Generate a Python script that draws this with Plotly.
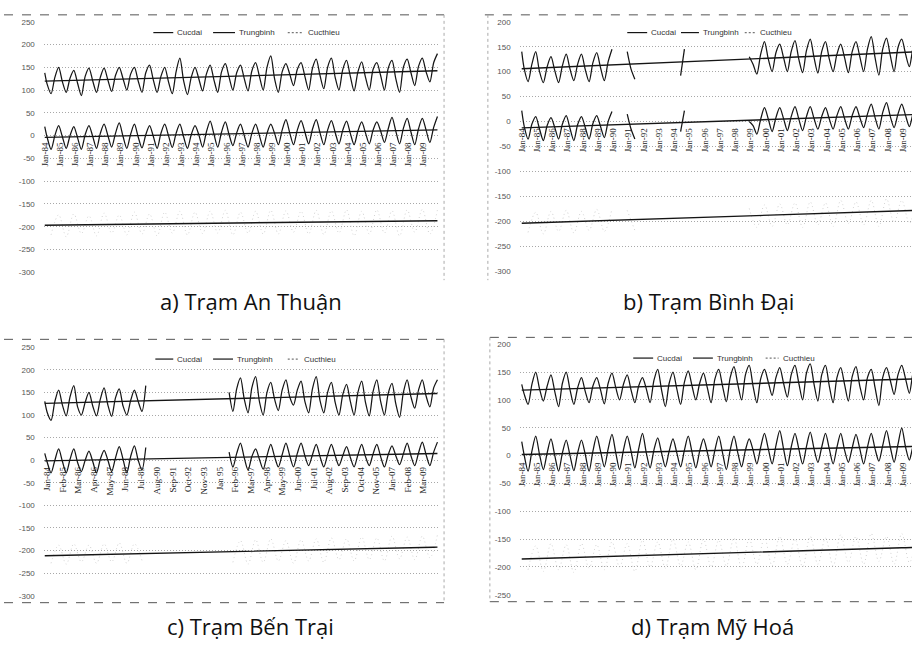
import numpy as np
import plotly.graph_objects as go

W, H = 912, 657
N = None

YEARS = list(range(1984, 2010))
SAMPLE_MONTHS = [3, 6, 9, 12]   # Cucdai / Trungbinh: first value is Jan-84, then Mar/Jun/Sep/Dec per year
MIN_MONTHS = [6, 12]            # Cucthieu: Jun/Dec per year

# ---------------- a) Trạm An Thuận ----------------
an_thuan_max = [138,
    112, 92, 128, 150,   118, 95, 126, 143,   115, 88, 130, 148,   120, 95, 128, 148,
    122, 97, 132, 150,   125, 100, 135, 150,  120, 95, 138, 155,   122, 95, 130, 150,
    118, 92, 140, 170,   120, 90, 128, 150,   125, 98, 135, 155,   122, 95, 140, 158,
    128, 100, 138, 155,  125, 98, 142, 160,   130, 100, 150, 175,  125, 95, 140, 158,
    135, 110, 145, 160,  130, 100, 148, 168,  132, 103, 150, 170,  128, 100, 145, 165,
    130, 98, 140, 162,   128, 100, 145, 160,  132, 100, 148, 165,  125, 95, 150, 168,
    138, 110, 152, 170,  140, 118, 160, 180]
an_thuan_mean = [20,
    -5, -30, 0, 22,   -3, -28, 0, 20,   -5, -30, 2, 22,   -2, -28, 5, 25,
    0, -25, 5, 28,    -2, -28, 3, 25,   -3, -27, 2, 22,   -2, -28, 5, 25,
    0, -26, 5, 25,    -3, -28, 2, 22,   2, -25, 8, 32,    3, -25, 8, 30,
    2, -22, 6, 25,    0, -25, 5, 25,    0, -25, 5, 25,    5, -20, 12, 35,
    6, -20, 12, 33,   8, -18, 14, 35,   6, -20, 12, 33,   7, -18, 12, 32,
    5, -20, 10, 30,   6, -18, 12, 30,   10, -15, 15, 40,  10, -18, 16, 38,
    8, -20, 15, 38,   12, -15, 18, 42]
an_thuan_min = [
    -218, -174, -222, -172, -215, -176, -220, -170, -214, -174, -218, -168, -216, -172,
    -220, -168, -214, -166, -218, -168, -215, -166, -214, -164, -218, -168, -214, -166,
    -216, -164, -216, -165, -212, -166, -216, -164, -217, -165, -214, -163, -220, -166,
    -216, -163, -214, -165, -220, -163, -212, -162, -216, -163]

# ---------------- b) Trạm Bình Đại ----------------
binh_dai_max = [140,
    105, 80, 115, 140,   100, 78, 110, 130,   102, 78, 112, 135,   105, 82, 115, 135,
    104, 80, 118, 138,   108, 82, 120, 145,   N, N, N, 140,        105, 85, N, N,
    N, N, N, N,          N, N, N, N,          N, 92, 145, N,       N, N, N, N,
    N, N, N, N,          N, N, N, N,          N, N, N, 130,        115, 95, 135, 160,
    125, 100, 138, 155,  128, 100, 140, 162,  125, 98, 142, 165,   128, 97, 140, 160,
    125, 100, 135, 155,  128, 98, 140, 160,   130, 100, 145, 170,  128, 93, 145, 167,
    132, 100, 148, 165,  135, 110, 150, 170]
binh_dai_mean = [22,
    -10, -35, -5, 10,   -15, -38, -8, 8,   -12, -35, -5, 12,   -14, -38, -6, 10,
    -12, -35, -4, 12,   -10, -32, 0, 20,   N, N, N, 15,        -15, -35, N, N,
    N, N, N, N,         N, N, N, N,        N, -20, 22, N,      N, N, N, N,
    N, N, N, N,         N, N, N, N,        N, N, N, 0,         -8, -25, 5, 28,
    5, -20, 8, 28,      6, -18, 10, 30,    5, -18, 10, 30,     6, -15, 10, 28,
    5, -15, 12, 30,     6, -15, 12, 30,    8, -12, 15, 35,     8, -15, 18, 38,
    10, -12, 15, 35,    12, -10, 18, 40]
binh_dai_min = [
    -222, -182, -225, -180, -220, -178, -223, -180, -218, -176, -220, -175, N, -178,
    -218, N, N, N, N, N, N, N, N, N, N, N,
    N, N, N, -174, -212, -167, -210, -165, -207, -163, -212, -161, -207, -163,
    -210, -158, -204, -161, -207, -158, -210, -155, -202, -158, -204, -154]

# ---------------- c) Trạm Bến Trại ----------------
ben_trai_max = [130,
    105, 88, 130, 155,   122, 98, 140, 165,   118, 100, 128, 150,  120, 98, 135, 160,
    122, 97, 138, 158,   120, 100, 132, 155,  130, 108, 165, N,    N, N, N, N,
    N, N, N, N,          N, N, N, N,          N, N, N, N,          N, N, N, N,
    150, 108, 158, 182,  135, 105, 160, 185,  130, 100, 150, 172,  135, 110, 155, 178,
    140, 122, 155, 175,  130, 105, 158, 185,  132, 105, 150, 172,  128, 100, 145, 168,
    130, 100, 150, 175,  128, 98, 152, 178,   130, 100, 148, 170,  125, 95, 150, 178,
    140, 115, 155, 178,  142, 118, 160, 178]
ben_trai_mean = [15,
    -5, -28, 0, 25,    -3, -28, 2, 25,    -5, -25, 0, 20,    -3, -28, 2, 22,
    0, -25, 5, 30,     2, -28, 8, 32,     0, -22, 28, N,     N, N, N, N,
    N, N, N, N,        N, N, N, N,        N, N, N, N,        N, N, N, N,
    18, -15, 15, 38,   5, -22, 8, 25,     2, -20, 10, 35,    8, -15, 12, 38,
    10, -15, 15, 38,   10, -12, 12, 35,   8, -15, 12, 35,    10, -12, 10, 30,
    6, -15, 12, 35,    8, -12, 14, 35,    8, -15, 12, 32,    10, -10, 14, 38,
    10, -12, 16, 40,   12, -12, 18, 40]
ben_trai_min = [
    -228, -188, -230, -185, -225, -188, -228, -185, -225, -183, -228, -185, -222, N,
    N, N, N, N, N, N, N, N, N, N, -226, -178,
    -230, -176, -226, -174, -223, -178, -228, -176, -223, -174, -226, -172, -220, -174,
    -223, -170, -220, -172, -223, -168, -218, -170, -220, -168, -216, -165]

# ---------------- d) Trạm Mỹ Hoá ----------------
my_hoa_max = [128,
    110, 92, 128, 150,   120, 98, 125, 145,   115, 88, 130, 150,   118, 92, 122, 140,
    115, 95, 125, 140,   118, 93, 130, 148,   122, 100, 128, 145,  118, 95, 125, 140,
    120, 95, 135, 155,   118, 88, 130, 150,   120, 92, 132, 152,   125, 100, 130, 148,
    122, 95, 138, 155,   125, 97, 140, 160,   128, 100, 145, 162,  125, 95, 138, 155,
    132, 108, 140, 158,  130, 105, 145, 162,  130, 100, 148, 165,  128, 98, 145, 162,
    125, 95, 140, 158,   128, 98, 142, 160,   125, 100, 140, 155,  122, 90, 140, 158,
    135, 110, 145, 162,  138, 112, 150, 165]
my_hoa_mean = [25,
    0, -28, 8, 35,     2, -25, 5, 30,     0, -28, 5, 28,     0, -27, 5, 28,
    2, -28, 8, 35,     8, -20, 12, 38,    5, -25, 10, 35,    8, -22, 12, 40,
    5, -22, 10, 32,    5, -20, 8, 30,     5, -20, 10, 35,    6, -22, 8, 30,
    6, -20, 10, 35,    5, -25, 10, 35,    5, -20, 10, 30,    10, -15, 15, 40,
    12, -15, 18, 45,   12, -18, 15, 40,   12, -15, 16, 42,   12, -12, 15, 40,
    12, -15, 15, 40,   10, -12, 14, 38,   12, -15, 15, 40,   12, -10, 18, 45,
    15, -12, 20, 50,   15, -8, 18, 30]
my_hoa_min = [
    -205, -162, -208, -158, -205, -160, -210, -158, -202, -160, -205, -155, -200, -158,
    -208, -152, -200, -155, -202, -150, -198, -155, -205, -150, -200, -152, -198, -148,
    -202, -150, -195, -148, -198, -145, -195, -150, -200, -145, -195, -148, -198, -142,
    -192, -145, -195, -140, -190, -145, -195, -140, -192, -142]

# ---------------- axis labels / texts ----------------
year_labels = ["Jan-84", "Jan-85", "Jan-86", "Jan-87", "Jan-88", "Jan-89", "Jan-90",
               "Jan-91", "Jan-92", "Jan-93", "Jan-94", "Jan-95", "Jan-96", "Jan-97",
               "Jan-98", "Jan-99", "Jan-00", "Jan-01", "Jan-02", "Jan-03", "Jan-04",
               "Jan-05", "Jan-06", "Jan-07", "Jan-08", "Jan-09"]
ben_trai_labels = ["Jan-84", "Feb-85", "Mar-86", "Apr-86", "May-87", "Jun-88", "Jul-89",
                   "Aug-90", "Sep-91", "Oct-92", "Nov-93", "Jan 95", "Feb-96", "Mar-97",
                   "Apr-98", "May-99", "Jun-00", "Jul-01", "Aug-02", "Sep-03", "Oct-04",
                   "Nov-05", "Jan-07", "Feb-08", "Mar-09"]
y_ticks_250 = [250, 200, 150, 100, 50, 0, -50, -100, -150, -200, -250, -300]
y_ticks_200 = [200, 150, 100, 50, 0, -50, -100, -150, -200, -250, -300]
y_ticks_d = [200, 150, 100, 50, 0, -50, -100, -150, -200, -250]
legend_names = ["Cucdai", "Trungbinh", "Cucthieu"]
titles = ["a) Trạm An Thuận", "b) Trạm Bình Đại", "c) Trạm Bến Trại", "d) Trạm Mỹ Hoá"]

# fractional-year positions of the samples
x_main = [1984 + 0.5 / 12] + [y + (m - 0.5) / 12 for y in YEARS for m in SAMPLE_MONTHS]
x_min = [y + (m - 0.5) / 12 for y in YEARS for m in MIN_MONTHS]
year_tick_pos = [1984 + i + 0.5 / 12 for i in range(len(year_labels))]
ben_trai_tick_pos = [1984.2 + i * 1.035 for i in range(len(ben_trai_labels))]


def px_x(p):
    return p / W


def px_y(p):
    return 1 - p / H


# panel geometry in pixels; legend entries as (line x0, line x1, text x, dashed)
panels = [
    dict(series=(an_thuan_max, an_thuan_mean, an_thuan_min), ticks=y_ticks_250,
         labels=year_labels, lpos=year_tick_pos, x0=40, x1=436, ytop=18, ybot=272,
         xr=[1983.98, 2010.0], title=(248, 301), leg_y=29,
         leg=[(150, 170, 172, False), (210, 232, 234, False), (285, 300, 303, True)]),
    dict(series=(binh_dai_max, binh_dai_mean, binh_dai_min), ticks=y_ticks_200,
         labels=year_labels, lpos=year_tick_pos, x0=518, x1=912, ytop=18, ybot=271,
         xr=[1983.91, 2009.63], title=(708, 301), leg_y=29,
         leg=[(626, 646, 648, False), (680, 698, 700, False), (744, 755, 757, True)]),
    dict(series=(ben_trai_max, ben_trai_mean, ben_trai_min), ticks=y_ticks_250,
         labels=ben_trai_labels, lpos=ben_trai_tick_pos, x0=40, x1=436, ytop=348, ybot=600,
         xr=[1983.98, 2010.0], title=(248, 631), leg_y=360,
         leg=[(152, 170, 172, False), (210, 230, 232, False), (285, 297, 299, True)]),
    dict(series=(my_hoa_max, my_hoa_mean, my_hoa_min), ticks=y_ticks_d,
         labels=year_labels, lpos=year_tick_pos, x0=518, x1=912, ytop=345, ybot=599,
         xr=[1983.91, 2009.63], title=(712, 631), leg_y=359,
         leg=[(632, 652, 654, False), (692, 712, 714, False), (765, 778, 780, True)]),
]

fig = go.Figure()
layout = dict(width=W, height=H, margin=dict(l=0, r=0, t=0, b=0),
              paper_bgcolor="white", plot_bgcolor="white", showlegend=False)
shapes, annotations = [], []

INK = "#151515"


def trend(xs, ys):
    pts = [(a, b) for a, b in zip(xs, ys) if b is not None]
    k, c = np.polyfit([p[0] for p in pts], [p[1] for p in pts], 1)
    return [k * a + c for a in x_main]


for i, p in enumerate(panels, start=1):
    sfx = "" if i == 1 else str(i)
    xa, ya = "x" + sfx, "y" + sfx
    mx, mean, mn = p["series"]

    fig.add_trace(go.Scatter(x=x_main, y=mx, mode="lines", name=legend_names[0],
                             line=dict(color=INK, width=1.25, shape="spline", smoothing=0.8),
                             xaxis=xa, yaxis=ya, connectgaps=False))
    fig.add_trace(go.Scatter(x=x_main, y=mean, mode="lines", name=legend_names[1],
                             line=dict(color=INK, width=1.25, shape="spline", smoothing=0.8),
                             xaxis=xa, yaxis=ya, connectgaps=False))
    fig.add_trace(go.Scatter(x=x_min, y=mn, mode="lines", name=legend_names[2],
                             line=dict(color="#d2d2d2", width=1, dash="1px,3px", shape="spline"),
                             xaxis=xa, yaxis=ya, connectgaps=False))
    for ser, xs in ((mx, x_main), (mean, x_main), (mn, x_min)):
        fig.add_trace(go.Scatter(x=x_main, y=trend(xs, ser), mode="lines",
                                 line=dict(color=INK, width=1.4), xaxis=xa, yaxis=ya,
                                 hoverinfo="skip"))

    ticks = p["ticks"]
    ydom = [px_y(p["ybot"]), px_y(p["ytop"])]
    zero_frac = ydom[0] + (0 - ticks[-1]) / (ticks[0] - ticks[-1]) * (ydom[1] - ydom[0])

    layout["xaxis" + sfx] = dict(
        domain=[px_x(p["x0"]), px_x(p["x1"])], range=p["xr"], anchor="free",
        position=zero_frac, showgrid=False, zeroline=False, showline=False,
        tickmode="array", tickvals=p["lpos"], ticktext=p["labels"], tickangle=-90,
        ticks="", ticklabelstandoff=4,
        tickfont=dict(family="Liberation Serif", size=9, color="#222"))
    layout["yaxis" + sfx] = dict(
        domain=ydom, range=[ticks[-1], ticks[0]], anchor=xa,
        tickmode="array", tickvals=ticks, ticktext=[str(t) for t in ticks],
        showgrid=True, gridcolor="#a8a8a8", gridwidth=1, griddash="1px,2px",
        zeroline=False, showline=False, ticks="", ticklabelstandoff=8,
        tickfont=dict(family="Liberation Sans", size=8, color="#555"))

    # legend row at the top of the panel
    for (lx0, lx1, tx, dashed), name in zip(p["leg"], legend_names):
        shapes.append(dict(type="line", xref="paper", yref="paper",
                           x0=px_x(lx0), x1=px_x(lx1), y0=px_y(p["leg_y"]), y1=px_y(p["leg_y"]),
                           line=dict(color="#777" if dashed else INK, width=1.2,
                                     dash="2px,2px" if dashed else "solid")))
        annotations.append(dict(text=name, x=px_x(tx), y=px_y(p["leg_y"]), xref="paper",
                                yref="paper", showarrow=False, xanchor="left", yanchor="middle",
                                font=dict(family="Liberation Sans", size=8, color="#333")))

    annotations.append(dict(text=titles[i - 1], x=px_x(p["title"][0]), y=px_y(p["title"][1]),
                            xref="paper", yref="paper", showarrow=False,
                            xanchor="center", yanchor="middle",
                            font=dict(family="Open Sans", size=22, color="#111")))


def hline(x0, x1, y, dash="dash", color="#555"):
    shapes.append(dict(type="line", xref="paper", yref="paper", x0=px_x(x0), x1=px_x(x1),
                       y0=px_y(y), y1=px_y(y), line=dict(color=color, width=1, dash=dash)))


def vline(x, y0, y1, dash="dot", color="#aaa"):
    shapes.append(dict(type="line", xref="paper", yref="paper", x0=px_x(x), x1=px_x(x),
                       y0=px_y(y0), y1=px_y(y1), line=dict(color=color, width=1, dash=dash)))


# chart-area borders
hline(0, 442, 11)
vline(442, 11, 280)
hline(483, 912, 11)
vline(486, 11, 280)
hline(0, 442, 340)
hline(0, 442, 607)
vline(442, 340, 607)
hline(488, 912, 338)
hline(488, 912, 606)
vline(488, 338, 606)

layout["shapes"] = shapes
layout["annotations"] = annotations
fig.update_layout(**layout)
fig.write_html("out.html")
